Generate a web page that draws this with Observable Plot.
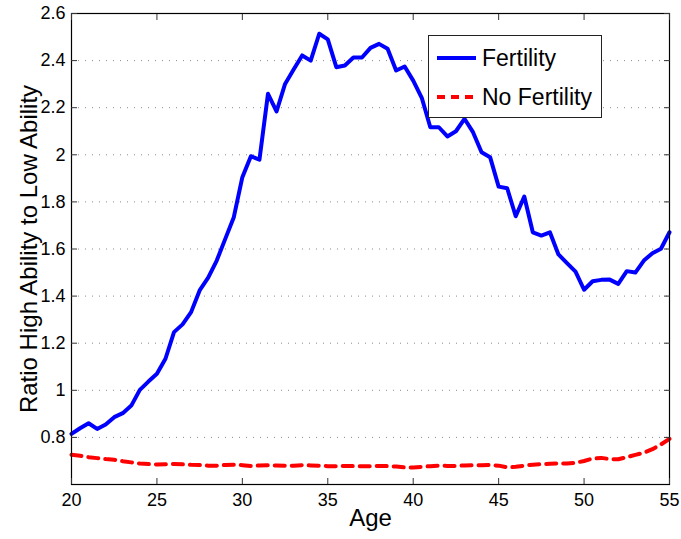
<!DOCTYPE html>
<html><head><meta charset="utf-8">
<script src="https://cdn.jsdelivr.net/npm/d3@7"></script>
<script src="https://cdn.jsdelivr.net/npm/@observablehq/plot@0.6"></script>
<style>
body{margin:0;background:#fff;}
#wrap{position:relative;width:681px;height:539px;font-family:"Liberation Sans",Arial,Helvetica,sans-serif;}
#legend{position:absolute;left:428px;top:35px;width:172px;height:81px;border:1px solid #222;background:#fff;}
#legend svg{position:absolute;left:0;top:0;}
</style>
</head><body>
<div id="wrap"><div id="chart"></div><div id="legend"></div></div>
<script>
const ages = [20,20.5,21,21.5,22,22.5,23,23.5,24,24.5,25,25.5,26,26.5,27,27.5,28,28.5,29,29.5,
  30,30.5,31,31.5,32,32.5,33,33.5,34,34.5,35,35.5,36,36.5,37,37.5,38,38.5,39,39.5,
  40,40.5,41,41.5,42,42.5,43,43.5,44,44.5,45,45.5,46,46.5,47,47.5,48,48.5,49,49.5,
  50,50.5,51,51.5,52,52.5,53,53.5,54,54.5,55];
const fertility = [0.815,0.839,0.860,0.836,0.855,0.886,0.903,0.935,1.002,1.037,
  1.070,1.134,1.247,1.280,1.332,1.424,1.478,1.551,1.643,1.735,
  1.905,1.994,1.979,2.259,2.184,2.301,2.362,2.422,2.400,2.514,
  2.490,2.372,2.379,2.413,2.413,2.454,2.471,2.450,2.358,2.375,
  2.315,2.242,2.117,2.117,2.078,2.100,2.153,2.096,2.011,1.990,
  1.865,1.858,1.739,1.823,1.671,1.657,1.671,1.577,1.540,1.504,
  1.427,1.463,1.469,1.470,1.452,1.506,1.500,1.551,1.582,1.601,1.671];
const noFertility = [0.726,0.722,0.716,0.712,0.708,0.705,0.699,0.694,0.689,0.687,
  0.685,0.686,0.687,0.686,0.684,0.683,0.680,0.680,0.683,0.684,
  0.682,0.679,0.681,0.682,0.681,0.680,0.680,0.682,0.681,0.680,
  0.678,0.678,0.679,0.678,0.678,0.678,0.679,0.678,0.676,0.673,
  0.672,0.675,0.678,0.680,0.679,0.679,0.681,0.682,0.682,0.683,
  0.680,0.673,0.675,0.680,0.684,0.686,0.688,0.690,0.689,0.692,
  0.700,0.710,0.713,0.708,0.707,0.716,0.726,0.735,0.750,0.770,0.794];
const xTicks = [20,25,30,35,40,45,50,55];
const yTicks = [0.8,1,1.2,1.4,1.6,1.8,2,2.2,2.4,2.6];
const gridY = [0.8,1,1.2,1.4,1.6,1.8,2,2.2,2.4];
const seriesNames = ["Fertility","No Fertility"];
const seriesColors = ["#0000ff","#ff0000"];
const xLabel = "Age";
const yLabel = "Ratio High Ability to Low Ability";

const data = ages.map((a,i)=>({age:a, value:fertility[i], series:seriesNames[0]}));
const dataNo = ages.map((a,i)=>({age:a, value:noFertility[i], series:seriesNames[1]}));
const fmt = d => String(d);
const FONT = '"Liberation Sans",Arial,Helvetica,sans-serif';

const chart = Plot.plot({
  width:681, height:539,
  marginLeft:71, marginRight:12, marginTop:13, marginBottom:55,
  style:{fontFamily:FONT, fontSize:"18px", color:"#000", background:"#fff"},
  x:{domain:[20,55]},
  y:{domain:[0.6,2.6]},
  marks:[
    Plot.ruleY(gridY,{stroke:"#8a8a8a", strokeWidth:1, strokeDasharray:"1,6"}),
    Plot.line(dataNo,{x:"age", y:"value", stroke:seriesColors[1], strokeWidth:4, strokeDasharray:"10,7", strokeLinejoin:"round"}),
    Plot.line(data,{x:"age", y:"value", stroke:seriesColors[0], strokeWidth:4, strokeLinejoin:"round"}),
    Plot.frame({stroke:"#000", strokeWidth:1.2}),
    Plot.axisX(xTicks,{anchor:"bottom", tickSize:0, tickPadding:9, tickFormat:fmt, label:null}),
    Plot.axisY(yTicks,{anchor:"left", tickSize:0, tickPadding:6, tickFormat:fmt, label:null}),
    Plot.axisX(xTicks,{anchor:"bottom", tickSize:6, dy:-6, tickFormat:()=>"", label:null, stroke:"#333"}),
    Plot.axisX(xTicks,{anchor:"top", tickSize:6, dy:6, tickFormat:()=>"", label:null, stroke:"#333"}),
    Plot.axisY(yTicks,{anchor:"left", tickSize:6, dx:6, tickFormat:()=>"", label:null, stroke:"#333"}),
    Plot.axisY(yTicks,{anchor:"right", tickSize:6, dx:-6, tickFormat:()=>"", label:null, stroke:"#333"}),
    Plot.text([xLabel],{text:d=>d, frameAnchor:"bottom", dy:41, fontSize:24, textAnchor:"middle"}),
    Plot.text([yLabel],{text:d=>d, frameAnchor:"left", dx:-42, rotate:-90, fontSize:24, textAnchor:"middle"})
  ]
});
document.getElementById("chart").appendChild(chart);

// legend
const lg = d3.select("#legend").append("svg").attr("width",172).attr("height",81);
seriesNames.forEach((name,i)=>{
  const cy = 22 + i*39;
  lg.append("line").attr("x1",8).attr("x2",47).attr("y1",cy).attr("y2",cy)
    .attr("stroke",seriesColors[i]).attr("stroke-width",4)
    .attr("stroke-dasharray", i===1 ? "8,6" : null);
  lg.append("text").attr("x",53).attr("y",cy).attr("dy","0.35em")
    .attr("font-size",23).attr("font-family",FONT)
    .attr("fill","#000").text(name);
});
</script>
</body></html>
